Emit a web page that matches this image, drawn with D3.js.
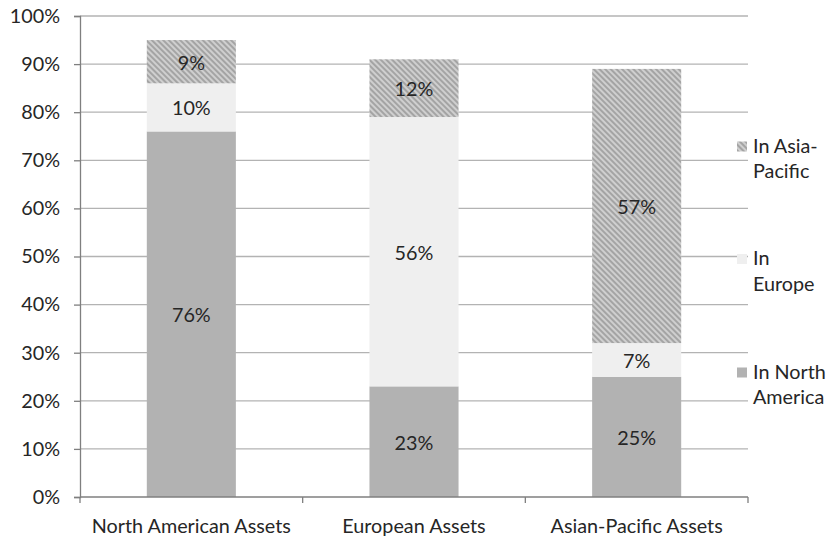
<!DOCTYPE html>
<html><head><meta charset="utf-8">
<script src="https://cdn.jsdelivr.net/npm/d3@7"></script>
<style>
html,body{margin:0;padding:0;background:#fff;}
svg text{font-family:Lato,"Open Sans",sans-serif;fill:#262626;}
</style></head>
<body><svg id="chart" width="830" height="538"></svg>
<script>
const categories = ["North American Assets","European Assets","Asian-Pacific Assets"];
const seriesNames = ["In North America","In Europe","In Asia-Pacific"];
const inNorthAmerica = [76, 23, 25];
const inEurope = [10, 56, 7];
const inAsiaPacific = [9, 12, 57];
const yTicks = [0,10,20,30,40,50,60,70,80,90,100];
const legendLines = [["In Asia-","Pacific"],["In","Europe"],["In North","America"]];

const svg = d3.select("#chart");
const FS = 19.8;
const x = d3.scaleBand().domain(categories).range([80, 748]).paddingInner(0.6).paddingOuter(0.3);
const band = d3.scaleBand().domain(categories).range([80, 748]);
const y = d3.scaleLinear().domain([0, 100]).range([497, 16]);

const defs = svg.append("defs");
const pat = defs.append("pattern").attr("id","hatch").attr("patternUnits","userSpaceOnUse")
  .attr("width",4).attr("height",4).attr("patternTransform","rotate(45)");
pat.append("rect").attr("width",4).attr("height",4).attr("fill","#cfcfcf");
pat.append("rect").attr("width",4).attr("height",2).attr("fill","#a4a4a4");

// gridlines
svg.append("g").selectAll("line").data(yTicks.filter(d=>d>0)).join("line")
  .attr("x1",80).attr("x2",748).attr("y1",d=>y(d)).attr("y2",d=>y(d))
  .attr("stroke","#b3b3b3").attr("stroke-width",1.3);

// y axis
const yAxis = d3.axisLeft(y).tickValues(yTicks).tickFormat(d=>d+"%").tickSize(6).tickPadding(14);
const gy = svg.append("g").attr("transform","translate(80,0)").call(yAxis);
gy.select(".domain").attr("stroke","#7f7f7f").attr("stroke-width",1.3);
gy.selectAll(".tick line").attr("stroke","#7f7f7f").attr("stroke-width",1.3);
gy.selectAll("text").style("font-size",FS+"px").attr("fill","#262626");

const colors = ["#b2b2b2","#efefef","url(#hatch)"];
const seriesData = [inNorthAmerica, inEurope, inAsiaPacific];
const stackInput = categories.map((c,i)=>({cat:c, a:seriesData[0][i], b:seriesData[1][i], c:seriesData[2][i]}));
const stack = d3.stack().keys(["a","b","c"])(stackInput);

const gb = svg.append("g");
stack.forEach((layer, si)=>{
  gb.selectAll(null).data(layer).join("rect")
    .attr("x", d=>x(d.data.cat)).attr("width", x.bandwidth())
    .attr("y", d=>y(d[1])).attr("height", d=>y(d[0])-y(d[1]))
    .attr("fill", colors[si]);
});
stack.forEach((layer)=>{
  gb.selectAll(null).data(layer).join("text")
    .attr("x", d=>x(d.data.cat)+x.bandwidth()/2)
    .attr("y", d=>(y(d[0])+y(d[1]))/2)
    .attr("text-anchor","middle").attr("dominant-baseline","central")
    .style("font-size",FS+"px")
    .text(d=>(d[1]-d[0])+"%");
});

// x axis
const gx = svg.append("g").attr("transform","translate(0,497)");
gx.append("line").attr("x1",80).attr("x2",748).attr("stroke","#7f7f7f").attr("stroke-width",1.3);
const bounds = categories.map(c=>band(c)).concat([748]);
gx.selectAll(".t").data(bounds).join("line").attr("class","t")
  .attr("x1",d=>d).attr("x2",d=>d).attr("y1",0).attr("y2",6)
  .attr("stroke","#7f7f7f").attr("stroke-width",1.3);
gx.selectAll("text").data(categories).join("text")
  .attr("x", d=>band(d)+band.bandwidth()/2).attr("y",28)
  .attr("text-anchor","middle").attr("dominant-baseline","central")
  .style("font-size",FS+"px").text(d=>d);

// legend
const legY = [146.5, 259, 372.5];
const legColors = ["url(#hatch)","#efefef","#b2b2b2"];
const lg = svg.append("g");
legendLines.forEach((lines,i)=>{
  lg.append("rect").attr("x",737).attr("y",legY[i]-5).attr("width",10).attr("height",10).attr("fill",legColors[i]);
  lines.forEach((t,j)=>{
    lg.append("text").attr("x",753).attr("y",legY[i]-2+j*25.5)
      .attr("dominant-baseline","central").style("font-size",FS+"px").text(t);
  });
});
</script></body></html>
